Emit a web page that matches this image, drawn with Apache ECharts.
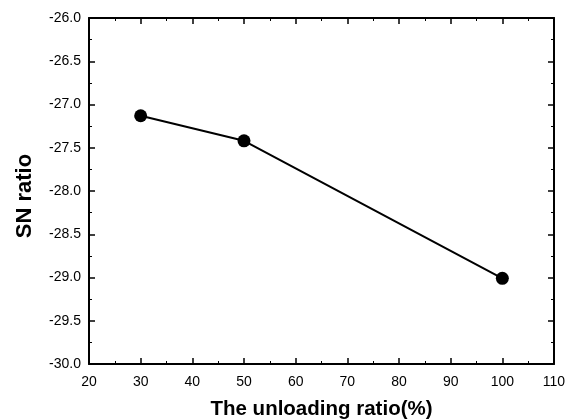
<!DOCTYPE html>
<html><head><meta charset="utf-8">
<script src="https://cdn.jsdelivr.net/npm/echarts@6/dist/echarts.min.js"></script>
<style>html,body{margin:0;padding:0;background:#fff}#c{width:568px;height:419px}</style>
</head><body><div id="c"></div>
<script>
const xValues = [30, 50, 100];
const snRatio = [-27.13, -27.42, -29.01];
const xTicks = [20, 30, 40, 50, 60, 70, 80, 90, 100, 110];
const yTicks = [-30.0, -29.5, -29.0, -28.5, -28.0, -27.5, -27.0, -26.5, -26.0];

const chart = echarts.init(document.getElementById('c'));
const lineStyle = {color: '#000', width: 2};
const tickStyle = {show: true, inside: true, length: 6, lineStyle: {color: '#000', width: 1.5}};
const minorStyle = {show: true, splitNumber: 2, length: 3, lineStyle: {color: '#000', width: 1}};
const lab = {color: '#000', fontFamily: 'Liberation Sans, Arial, sans-serif', fontSize: 14};
const font = 'Liberation Sans, Arial, sans-serif';
chart.setOption({
  animation: false,
  grid: {left: 89, right: 14, top: 18, bottom: 55, outerBoundsMode: 'none'},
  xAxis: [{
    type: 'value', min: xTicks[0], max: xTicks[xTicks.length-1], interval: 10,
    axisLine: {show: true, onZero: false, lineStyle},
    axisTick: tickStyle, minorTick: minorStyle, splitLine: {show: false},
    axisLabel: Object.assign({margin: 11}, lab),
    name: 'The unloading ratio(%)', nameLocation: 'middle', nameGap: 35,
    nameTextStyle: {color: '#000', fontFamily: font, fontSize: 20.5, fontWeight: 'bold'}
  }, {
    type: 'value', position: 'top', min: xTicks[0], max: xTicks[xTicks.length-1], interval: 10,
    axisLine: {show: true, onZero: false, lineStyle},
    axisTick: tickStyle, minorTick: minorStyle, splitLine: {show: false}, axisLabel: {show: false}
  }],
  yAxis: [{
    type: 'value', min: yTicks[0], max: yTicks[yTicks.length-1], interval: 0.5,
    axisLine: {show: true, onZero: false, lineStyle},
    axisTick: tickStyle, minorTick: minorStyle, splitLine: {show: false},
    axisLabel: Object.assign({margin: 8, formatter: v => v.toFixed(1)}, lab),
    name: 'SN ratio', nameLocation: 'middle', nameGap: 53,
    nameTextStyle: {color: '#000', fontFamily: font, fontSize: 22, fontWeight: 'bold', padding: [0, 10, 0, 0]}
  }, {
    type: 'value', position: 'right', min: yTicks[0], max: yTicks[yTicks.length-1], interval: 0.5,
    axisLine: {show: true, onZero: false, lineStyle},
    axisTick: tickStyle, minorTick: minorStyle, splitLine: {show: false}, axisLabel: {show: false}
  }],
  series: [{
    type: 'line', data: xValues.map((x, i) => [x, snRatio[i]]),
    symbol: 'circle', symbolSize: 13,
    itemStyle: {color: '#000'}, lineStyle: {color: '#000', width: 2}
  }]
});
</script></body></html>
